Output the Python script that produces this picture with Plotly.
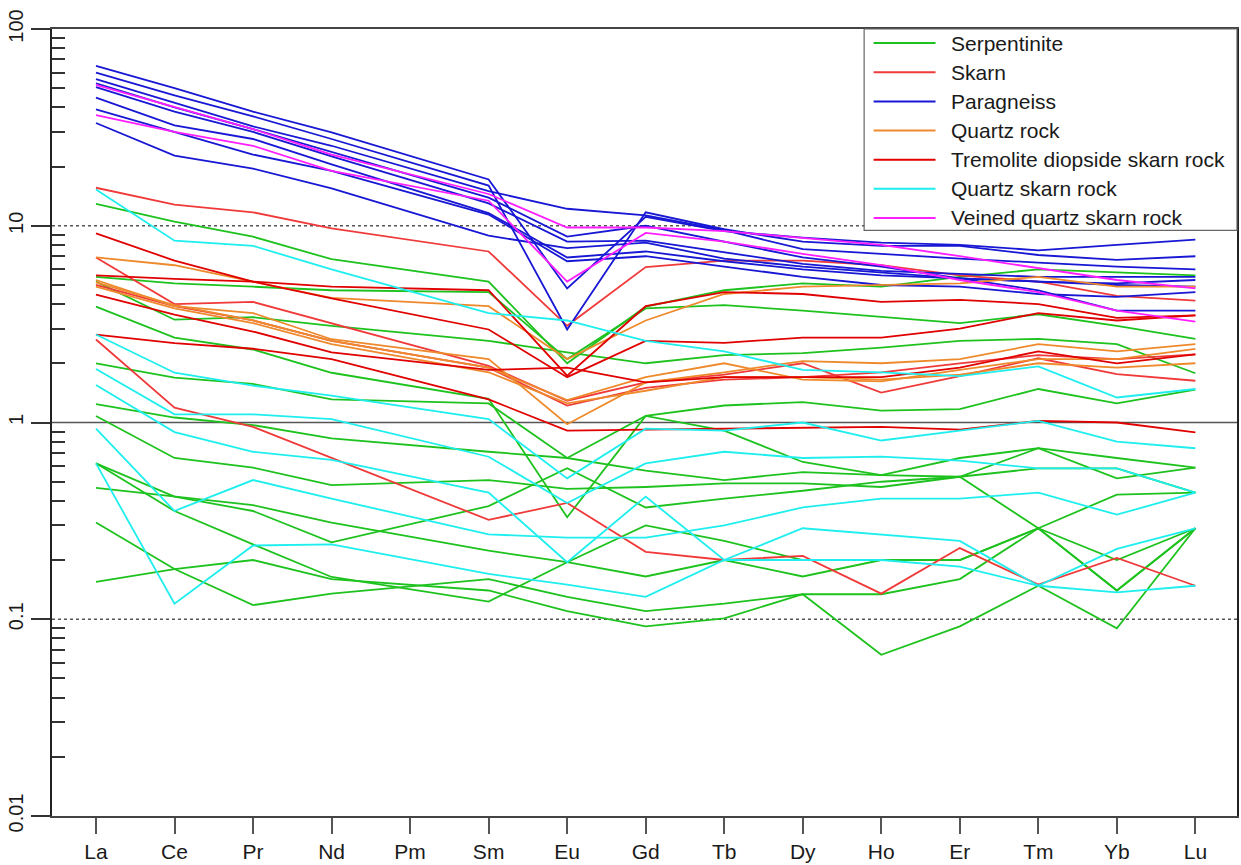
import plotly.graph_objects as go

# Chondrite-normalised REE patterns; Pm is not analysed, so each profile
# lists the 14 measured elements and the gap at Pm is bridged.
elements = ["La", "Ce", "Pr", "Nd", "Pm", "Sm", "Eu", "Gd", "Tb", "Dy", "Ho", "Er", "Tm", "Yb", "Lu"]
measured = [e for e in elements if e != "Pm"]

serpentinite = [
    [12.9, 10.5, 8.8, 6.76, 5.2, 2.0, 3.88, 4.7, 5.1, 4.9, 5.5, 6.0, 5.8, 5.6],
    [5.5, 5.1, 4.9, 4.7, 4.6, 2.1, 3.8, 3.95, 3.7, 3.45, 3.2, 3.55, 3.1, 2.66],
    [5.2, 3.33, 3.43, 3.1, 2.6, 2.27, 2.0, 2.2, 2.25, 2.4, 2.6, 2.66, 2.5, 1.78],
    [3.88, 2.7, 2.35, 1.79, 1.32, 0.33, 1.08, 1.22, 1.27, 1.15, 1.17, 1.48, 1.25, 1.47],
    [2.0, 1.69, 1.57, 1.31, 1.25, 0.66, 1.08, 0.91, 0.63, 0.54, 0.66, 0.74, 0.52, 0.59],
    [1.24, 1.06, 0.97, 0.83, 0.71, 0.66, 0.57, 0.51, 0.56, 0.54, 0.53, 0.585, 0.585, 0.44],
    [1.08, 0.66, 0.59, 0.48, 0.51, 0.46, 0.47, 0.49, 0.49, 0.47, 0.53, 0.74, 0.66, 0.59],
    [0.62, 0.42, 0.355, 0.246, 0.376, 0.585, 0.37, 0.41, 0.45, 0.5, 0.53, 0.29, 0.2, 0.29],
    [0.62, 0.355, 0.24, 0.164, 0.123, 0.195, 0.3, 0.25, 0.2, 0.2, 0.2, 0.29, 0.43, 0.44],
    [0.465, 0.42, 0.38, 0.31, 0.223, 0.195, 0.165, 0.2, 0.165, 0.2, 0.2, 0.29, 0.14, 0.29],
    [0.31, 0.18, 0.118, 0.135, 0.16, 0.13, 0.11, 0.12, 0.134, 0.066, 0.092, 0.148, 0.09, 0.29],
    [0.155, 0.18, 0.2, 0.16, 0.14, 0.11, 0.092, 0.101, 0.134, 0.134, 0.16, 0.29, 0.14, 0.29],
]

skarn = [
    [15.6, 12.8, 11.7, 9.7, 7.4, 3.1, 6.16, 6.65, 6.65, 6.3, 5.6, 5.2, 4.4, 4.16],
    [6.9, 4.0, 4.1, 3.2, 1.94, 1.29, 1.6, 1.75, 2.0, 1.42, 1.72, 2.12, 1.76, 1.63],
    [5.0, 3.9, 3.3, 2.6, 1.9, 1.22, 1.5, 1.65, 1.7, 1.8, 2.0, 2.2, 2.1, 2.22],
    [2.64, 1.19, 0.95, 0.66, 0.32, 0.39, 0.22, 0.20, 0.21, 0.135, 0.23, 0.15, 0.205, 0.148],
]

paragneiss = [
    [65, 50, 38, 29.8, 17.2, 4.8, 11.1, 9.4, 8.7, 8.2, 8.0, 7.5, 8.0, 8.5],
    [60, 46, 36, 27.6, 16.0, 2.97, 11.7, 9.6, 8.3, 7.9, 7.9, 7.1, 6.7, 7.0],
    [55.6, 42, 32, 25.5, 15.0, 12.2, 11.3, 9.5, 7.6, 7.2, 6.8, 6.5, 6.2, 6.0],
    [53, 40, 31, 23.7, 13.9, 8.8, 10.0, 8.3, 6.9, 6.2, 5.4, 4.7, 3.7, 3.7],
    [50.7, 38, 30, 22.5, 13.0, 8.3, 8.4, 7.3, 6.4, 5.9, 5.7, 5.5, 5.5, 5.5],
    [44.8, 32.4, 27.6, 20.5, 11.6, 6.9, 7.4, 6.6, 6.0, 5.6, 5.4, 5.2, 5.1, 5.3],
    [39, 30, 23, 19.0, 11.4, 6.6, 7.0, 6.2, 5.5, 5.0, 4.9, 4.5, 4.35, 4.6],
    [33.3, 22.7, 19.5, 15.5, 8.9, 7.7, 8.2, 6.8, 6.2, 5.8, 5.4, 5.2, 5.0, 4.9],
]

quartz_rock = [
    [6.9, 6.3, 5.2, 4.3, 3.9, 2.1, 3.3, 4.5, 4.9, 5.0, 5.1, 5.5, 4.9, 4.9],
    [5.3, 3.9, 3.6, 2.65, 2.1, 0.98, 1.6, 1.8, 2.05, 2.0, 2.1, 2.5, 2.3, 2.5],
    [5.15, 3.95, 3.3, 2.6, 1.9, 1.3, 1.7, 2.0, 1.65, 1.62, 1.85, 2.1, 2.1, 2.37],
    [4.9, 3.8, 3.2, 2.5, 1.8, 1.25, 1.45, 1.7, 1.7, 1.65, 1.75, 2.0, 1.9, 2.0],
]

tremolite_diopside_skarn_rock = [
    [9.15, 6.65, 5.2, 4.27, 2.97, 1.7, 2.6, 2.54, 2.7, 2.7, 3.0, 3.6, 3.3, 3.5],
    [5.6, 5.37, 5.2, 4.9, 4.7, 1.73, 3.9, 4.6, 4.5, 4.1, 4.2, 4.0, 3.4, 3.5],
    [4.47, 3.53, 2.9, 2.27, 1.85, 1.9, 1.6, 1.7, 1.7, 1.7, 1.9, 2.3, 2.0, 2.22],
    [2.8, 2.53, 2.37, 2.1, 1.31, 0.91, 0.92, 0.93, 0.94, 0.95, 0.92, 1.02, 1.0, 0.89],
]

quartz_skarn_rock = [
    [15.3, 8.4, 7.9, 6.0, 3.6, 3.3, 2.6, 2.3, 1.85, 1.8, 1.72, 1.93, 1.34, 1.48],
    [2.8, 1.79, 1.54, 1.37, 1.04, 0.52, 0.93, 0.91, 1.0, 0.81, 0.91, 1.02, 0.8, 0.74],
    [1.87, 1.1, 1.1, 1.04, 0.67, 0.39, 0.62, 0.71, 0.66, 0.67, 0.64, 0.585, 0.585, 0.44],
    [1.55, 0.894, 0.71, 0.645, 0.44, 0.195, 0.42, 0.2, 0.29, 0.27, 0.25, 0.148, 0.137, 0.148],
    [0.93, 0.355, 0.51, 0.41, 0.27, 0.26, 0.26, 0.30, 0.37, 0.41, 0.41, 0.44, 0.34, 0.44],
    [0.62, 0.12, 0.237, 0.24, 0.17, 0.15, 0.13, 0.20, 0.20, 0.2, 0.185, 0.148, 0.228, 0.29],
]

veined_quartz_skarn_rock = [
    [36.5, 30, 25.5, 19.0, 13.4, 5.2, 9.2, 8.3, 7.2, 6.3, 5.3, 4.6, 3.7, 3.26],
    [52, 40, 31, 23.0, 14.5, 9.8, 9.8, 9.4, 8.7, 8.0, 7.0, 6.1, 5.3, 4.8],
]

groups = [
    ("Serpentinite", serpentinite, "#1ec21e"),
    ("Skarn", skarn, "#f03a3a"),
    ("Paragneiss", paragneiss, "#1717d4"),
    ("Quartz rock", quartz_rock, "#ee8a2c"),
    ("Tremolite diopside skarn rock", tremolite_diopside_skarn_rock, "#e00000"),
    ("Quartz skarn rock", quartz_skarn_rock, "#1eeeee"),
    ("Veined quartz skarn rock", veined_quartz_skarn_rock, "#ff1eff"),
]

FONT = "Liberation Sans, Arial, sans-serif"
x_idx = list(range(len(elements)))
x_lo, x_hi = -0.56, 14.53

fig = go.Figure()

# reference levels: 10 and 0.1 dotted, 1 solid
for level, dash, col in [(10, "dot", "#555555"), (0.1, "dot", "#555555"), (1, "solid", "#555555")]:
    fig.add_trace(go.Scatter(x=[x_lo, x_hi], y=[level, level], mode="lines",
                             line=dict(color=col, width=1.6 if dash == "solid" else 1.4, dash=dash),
                             hoverinfo="skip", showlegend=False))

for name, profiles, color in groups:
    for prof in profiles:
        vals = dict(zip(measured, prof))
        y = [vals.get(e) for e in elements]
        fig.add_trace(go.Scatter(x=x_idx, y=y, mode="lines", connectgaps=True,
                                 line=dict(color=color, width=1.8),
                                 name=name, legendgroup=name, showlegend=False))

# legend panel drawn in paper coordinates
plot_l, plot_r, plot_t, plot_b = 52, 1239, 29, 826
def px(xp):
    return (xp - plot_l) / (plot_r - plot_l)
def py(yp):
    return (plot_b - yp) / (plot_b - plot_t)

shapes = [dict(type="rect", xref="paper", yref="paper", x0=px(865.5), x1=1.0, y0=py(233), y1=1.0,
               line=dict(color="#666666", width=1.2), fillcolor="white", layer="above")]
annotations = []
for i, (name, _, color) in enumerate(groups):
    yc = 43.3 + i * 29.5
    shapes.append(dict(type="line", xref="paper", yref="paper", x0=px(875), x1=px(937),
                       y0=py(yc), y1=py(yc), line=dict(color=color, width=2), layer="above"))
    annotations.append(dict(xref="paper", yref="paper", x=px(951), y=py(yc), text=name,
                            showarrow=False, xanchor="left", yanchor="middle",
                            font=dict(family=FONT, size=21, color="#1a1a1a")))

minor_vals = [m * 10 ** d for d in range(-2, 2) for m in range(2, 10)]

fig.update_layout(
    width=1241, height=865,
    margin=dict(l=plot_l, r=1241 - plot_r, t=plot_t, b=865 - plot_b),
    paper_bgcolor="white", plot_bgcolor="white",
    showlegend=False,
    shapes=shapes, annotations=annotations,
    font=dict(family=FONT, color="#1a1a1a"),
)
fig.update_xaxes(
    range=[x_lo, x_hi], tickmode="array", tickvals=x_idx, ticktext=elements,
    ticks="outside", ticklen=16, tickwidth=1.5, tickcolor="#555555",
    tickfont=dict(family=FONT, size=21, color="#1a1a1a"),
    showgrid=False, zeroline=False, showline=True, linecolor="#444444", linewidth=1.5, mirror=True,
)
fig.update_yaxes(
    type="log", range=[-2, 2], tickmode="array",
    tickvals=[0.01, 0.1, 1, 10, 100], ticktext=["0.01", "0.1", "1", "10", "100"],
    tickangle=-90, ticks="outside", ticklen=19, tickwidth=2, tickcolor="#333333",
    tickfont=dict(family=FONT, size=20, color="#1a1a1a"),
    minor=dict(tickvals=minor_vals, ticks="inside", ticklen=13, tickwidth=2, tickcolor="#333333", showgrid=False),
    showgrid=False, zeroline=False, showline=True, linecolor="#222222", linewidth=1.5, mirror=True,
)

fig.write_html("out.html")
